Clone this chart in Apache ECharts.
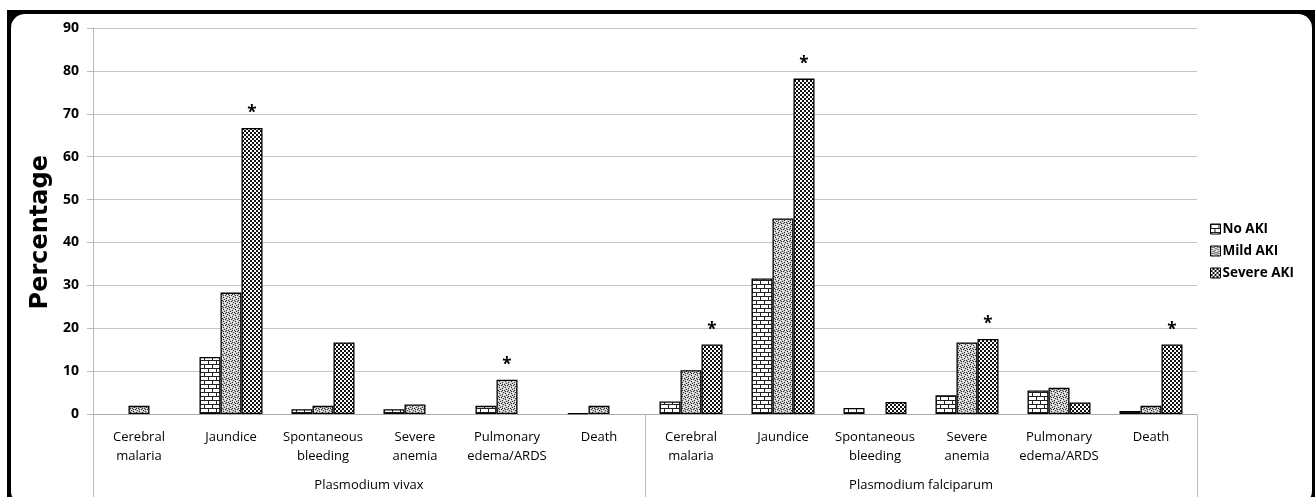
<!DOCTYPE html>
<html>
<head>
<meta charset="utf-8">
<script src="https://cdn.jsdelivr.net/npm/echarts@6/dist/echarts.min.js"></script>
<style>
html,body{margin:0;padding:0;background:#fff;width:1315px;height:497px;overflow:hidden;}
#frame{position:absolute;left:7px;top:10px;width:1308px;height:495px;background:#000;}
#inner{position:absolute;left:4px;top:4px;right:3px;bottom:0;background:#fff;border-radius:14px;}
#chart{position:absolute;left:0;top:0;width:1315px;height:497px;}
</style>
</head>
<body>
<div id="frame"><div id="inner"></div></div>
<div id="chart"></div>
<script>
const categories = ['Cerebral\nmalaria','Jaundice','Spontaneous\nbleeding','Severe\nanemia','Pulmonary\nedema/ARDS','Death',
                    'Cerebral\nmalaria','Jaundice','Spontaneous\nbleeding','Severe\nanemia','Pulmonary\nedema/ARDS','Death'];
const groups = ['Plasmodium vivax','Plasmodium falciparum'];
const seriesNames = ['No AKI','Mild AKI','Severe AKI'];
const noAKI     = [0, 13.3, 1.1, 1.1, 1.9, 0.15, 2.9, 31.6, 1.4, 4.4, 5.5, 0.7];
const mildAKI   = [1.9, 28.3, 1.9, 2.2, 8.0, 1.9, 10.2, 45.6, 0, 16.7, 6.1, 1.9];
const severeAKI = [0, 66.7, 16.7, 0, 0, 0, 16.2, 78.2, 2.8, 17.5, 2.7, 16.2];
// significance markers (*): which series/category carries a star
const starNo     = [0,0,0,0,0,0,0,0,0,0,0,0];
const starMild   = [0,0,0,0,1,0,0,0,0,0,0,0];
const starSevere = [0,1,0,0,0,0,1,1,0,1,0,1];
const yTicks = [0,10,20,30,40,50,60,70,80,90];
const yTitle = 'Percentage';

function makePattern(kind){
  const c = document.createElement('canvas');
  const ctx = c.getContext('2d');
  if(kind==='brick'){
    c.width=8;c.height=8;
    ctx.fillStyle='#fff';ctx.fillRect(0,0,8,8);
    ctx.fillStyle='#222';
    ctx.fillRect(0,0,8,1);ctx.fillRect(0,4,8,1);
    ctx.fillRect(0,0,1,4);ctx.fillRect(4,4,1,4);
  } else if(kind==='dots'){
    c.width=6;c.height=6;
    ctx.fillStyle='#c8c8c8';ctx.fillRect(0,0,6,6);
    ctx.fillStyle='#333';
    [[0,0],[3,1],[1,3],[4,4],[5,2],[2,5],[1,1],[4,0]].forEach(p=>ctx.fillRect(p[0],p[1],1,1));
    ctx.fillStyle='#fff';
    [[2,0],[5,5],[0,4],[3,3],[2,2],[5,1]].forEach(p=>ctx.fillRect(p[0],p[1],1,1));
  } else {
    c.width=4;c.height=4;
    ctx.fillStyle='#111';ctx.fillRect(0,0,4,4);
    ctx.fillStyle='#fff';
    ctx.fillRect(0,0,2,2);ctx.fillRect(2,2,2,2);
  }
  return {image:c, repeat:'repeat'};
}
const patterns = [makePattern('brick'), makePattern('dots'), makePattern('check')];
const values = [noAKI, mildAKI, severeAKI];
const stars = [starNo, starMild, starSevere];

const FONT = '"Open Sans", "DejaVu Sans", sans-serif';

const series = seriesNames.map((name,si)=>({
  name: name,
  type: 'bar',
  barWidth: 21,
  barGap: '0%',
  itemStyle: {color: patterns[si], borderColor:'#000', borderWidth:1.3},
  data: values[si].map((v,i)=> {
    if (v === 0) return '-';
    return stars[si][i] ? {value:v, label:{show:true, formatter:'*', position:'top', distance:6, fontSize:17, fontWeight:'bold', color:'#000', fontFamily:FONT}} : v;
  })
}));

const chart = echarts.init(document.getElementById('chart'), null, {renderer:'canvas'});
chart.setOption({
  backgroundColor: 'transparent',
  animation: false,
  textStyle: {fontFamily: FONT},
  grid: {left: 93, right: 118, top: 28, bottom: 83},
  legend: {
    orient: 'vertical', left: 1205, top: 217, itemWidth: 10, itemHeight: 10, itemGap: 8,
    icon: 'rect',
    itemStyle: {borderColor:'#000', borderWidth:1},
    textStyle: {fontSize: 13.5, fontWeight: 'bold', color:'#000', fontFamily: FONT, padding:[0,0,0,-3]},
    data: seriesNames
  },
  graphic: [{
    type: 'text', left: 29, top: 155, z: 10,
    style: {text: yTitle, font: 'bold 24px "DejaVu Sans", sans-serif', fill: '#000'},
    rotation: Math.PI/2
  }],
  xAxis: [{
    type: 'category', data: categories, position: 'bottom',
    axisLine: {show: true, lineStyle: {color: '#aaa', width: 1}},
    axisTick: {show: false},
    axisLabel: {interval: 0, margin: 14, fontSize: 13, color: '#000', lineHeight: 19, fontFamily: FONT}
  },{
    type: 'category', data: groups, position: 'bottom', gridIndex: 0,
    axisLine: {show: false},
    axisTick: {show: true, length: 84, interval: 0, lineStyle: {color: '#bbb', width: 1}},
    axisLabel: {interval: 0, margin: 65, fontSize: 13, color: '#000', fontFamily: FONT}
  }],
  yAxis: {
    type: 'value', min: 0, max: 90, interval: 10,
    axisLine: {show: true, lineStyle: {color: '#bbb'}},
    axisTick: {show: true, length: 6, lineStyle: {color: '#bbb'}},
    axisLabel: {fontSize: 14, fontWeight: 'bold', color: '#000', margin: 14, fontFamily: FONT,
      formatter: v => yTicks.includes(v) ? String(v) : ''},
    splitLine: {show: true, lineStyle: {color: '#c4c4c4', width: 1}}
  },
  series: series
});
</script>
</body>
</html>
